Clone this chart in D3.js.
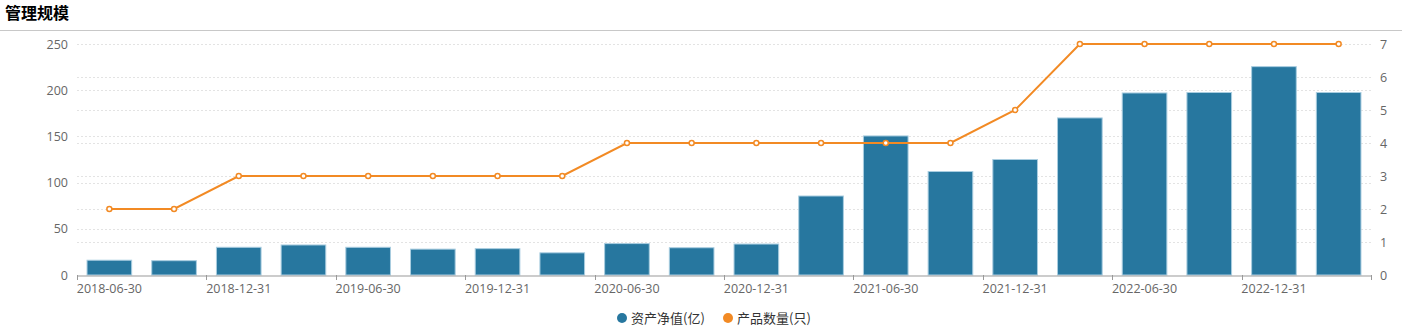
<!DOCTYPE html>
<html>
<head>
<meta charset="utf-8">
<script src="https://cdn.jsdelivr.net/npm/d3@7/dist/d3.min.js"></script>
<style>
  html, body { margin: 0; padding: 0; background: #fff; }
  svg { display: block; font-family: "Microsoft YaHei", "Noto Sans CJK SC", "Open Sans", sans-serif; }
</style>
</head>
<body>
<svg id="chart" width="1402" height="331"></svg>
<script>
// Quarterly reporting dates
const dates = [
  "2018-06-30", "2018-09-30", "2018-12-31", "2019-03-31",
  "2019-06-30", "2019-09-30", "2019-12-31", "2020-03-31",
  "2020-06-30", "2020-09-30", "2020-12-31", "2021-03-31",
  "2021-06-30", "2021-09-30", "2021-12-31", "2022-03-31",
  "2022-06-30", "2022-09-30", "2022-12-31", "2023-03-31"
];
// Net asset value (亿)
const netAssets = [16, 15.5, 30, 32.5, 30, 28, 28.5, 24, 34, 29.5,
                   33.5, 85.5, 150.5, 112, 125, 170, 197, 197.5, 225.5, 197.5];
// Number of products (只)
const productCount = [2, 2, 3, 3, 3, 3, 3, 3, 4, 4, 4, 4, 4, 4, 5, 7, 7, 7, 7, 7];
const leftTicks = [0, 50, 100, 150, 200, 250];
const rightTicks = [0, 1, 2, 3, 4, 5, 6, 7];
const seriesNames = ["资产净值(亿)", "产品数量(只)"];

const barColor = "#27779f";
const lineColor = "#f28a24";
const textColor = "#666";
const tickFont = "'Open Sans', sans-serif";

const svg = d3.select("#chart");
const W = 1402;
const margin = { left: 77, right: 31, top: 44, bottom: 56 };
const plotW = W - margin.left - margin.right;
const y0 = 275;

// Title and separator
svg.append("text").attr("x", 5).attr("y", 19)
  .attr("font-size", 16).attr("font-weight", "bold").attr("fill", "#000")
  .text("管理规模");
svg.append("line").attr("x1", 0).attr("x2", W).attr("y1", 30.5).attr("y2", 30.5)
  .attr("stroke", "#c8c8c8").attr("stroke-width", 1);

const x = d3.scaleBand().domain(dates).range([margin.left, margin.left + plotW]).padding(0);
const yL = d3.scaleLinear().domain([0, 250]).range([y0, margin.top]);
const yR = d3.scaleLinear().domain([0, 7]).range([y0, margin.top]);

// Dashed grid lines for both value axes
const grid = svg.append("g");
grid.selectAll("line.gl").data(leftTicks.slice(1)).join("line")
  .attr("x1", margin.left).attr("x2", margin.left + plotW)
  .attr("y1", d => Math.round(yL(d)) + 0.5).attr("y2", d => Math.round(yL(d)) + 0.5)
  .attr("stroke", "#e3e3e3").attr("stroke-dasharray", "2,2");
grid.selectAll("line.gr").data(rightTicks.slice(1, -1)).join("line")
  .attr("x1", margin.left).attr("x2", margin.left + plotW)
  .attr("y1", d => Math.round(yR(d)) + 0.5).attr("y2", d => Math.round(yR(d)) + 0.5)
  .attr("stroke", "#e3e3e3").attr("stroke-dasharray", "2,2");

// Bars
const bw = x.bandwidth() * 0.69;
svg.append("g").selectAll("rect").data(dates).join("rect")
  .attr("x", (d) => x(d) + (x.bandwidth() - bw) / 2)
  .attr("width", bw)
  .attr("y", (d, i) => yL(netAssets[i]))
  .attr("height", (d, i) => y0 - yL(netAssets[i]))
  .attr("fill", barColor)
  .attr("stroke", "#a9cde0").attr("stroke-width", 1);

// Category axis
const xAxis = d3.axisBottom(x)
  .tickValues(dates.filter((d, i) => i % 2 === 0))
  .tickSize(0).tickPadding(9);
const gx = svg.append("g").attr("transform", `translate(0,${y0 + 0.5})`).call(xAxis);
gx.select(".domain").attr("stroke", "#999");
gx.selectAll("text").attr("font-size", 12.5).attr("fill", textColor)
  .attr("font-family", tickFont);
// boundary ticks every two categories
const bounds = dates.filter((d, i) => i % 2 === 0).map(d => x(d)).concat([margin.left + plotW]);
svg.append("g").selectAll("line").data(bounds).join("line")
  .attr("x1", d => Math.round(d) + 0.5).attr("x2", d => Math.round(d) + 0.5)
  .attr("y1", y0).attr("y2", y0 + 5).attr("stroke", "#999");

// Left value axis
const gl = svg.append("g").attr("transform", `translate(${margin.left},0)`)
  .call(d3.axisLeft(yL).tickValues(leftTicks).tickFormat(d3.format("d")).tickSize(0).tickPadding(9));
gl.select(".domain").remove();
gl.selectAll("text").attr("font-size", 12.5).attr("fill", textColor)
  .attr("font-family", tickFont);

// Right value axis
const gr = svg.append("g").attr("transform", `translate(${margin.left + plotW},0)`)
  .call(d3.axisRight(yR).tickValues(rightTicks).tickFormat(d3.format("d")).tickSize(0).tickPadding(9));
gr.select(".domain").remove();
gr.selectAll("text").attr("font-size", 12.5).attr("fill", textColor)
  .attr("font-family", tickFont);

// Product count line
const cx = d => x(d) + x.bandwidth() / 2;
const line = d3.line().x((d, i) => cx(dates[i])).y(d => yR(d));
svg.append("path").datum(productCount)
  .attr("d", line).attr("fill", "none")
  .attr("stroke", lineColor).attr("stroke-width", 2);
svg.append("g").selectAll("circle").data(productCount).join("circle")
  .attr("cx", (d, i) => cx(dates[i])).attr("cy", d => yR(d))
  .attr("r", 2.5).attr("fill", "#fff")
  .attr("stroke", lineColor).attr("stroke-width", 1.5);

// Legend
const legend = svg.append("g").attr("transform", "translate(0,318)");
const items = [
  { name: seriesNames[0], color: barColor, x: 622 },
  { name: seriesNames[1], color: lineColor, x: 728 }
];
items.forEach(it => {
  legend.append("circle").attr("cx", it.x).attr("cy", 0).attr("r", 5).attr("fill", it.color);
  legend.append("text").attr("x", it.x + 9).attr("y", 5)
    .attr("font-size", 13).attr("fill", "#333").text(it.name);
});
</script>
</body>
</html>
